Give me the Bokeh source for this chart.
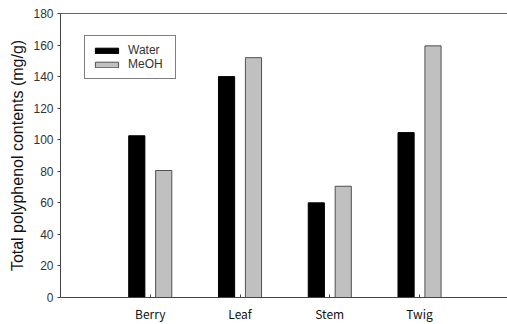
from bokeh.plotting import figure
from bokeh.models import Range1d, LinearAxis, Legend, LegendItem, FixedTicker, ColumnDataSource
from bokeh.embed import file_html
from bokeh.resources import INLINE

categories = ["Berry", "Leaf", "Stem", "Twig"]
water = [102.5, 140.0, 60.0, 104.5]
meoh = [80.5, 152.0, 70.5, 159.5]
y_ticks = [0, 20, 40, 60, 80, 100, 120, 140, 160, 180]

pos = [i + 1 for i in range(len(categories))]
src = ColumnDataSource(dict(
    xw=[x - 0.15 for x in pos], xm=[x + 0.15 for x in pos], water=water, meoh=meoh))

p = figure(width=507, height=324, output_backend="svg", toolbar_location=None,
           x_range=Range1d(0, 4.98), y_range=Range1d(0, 180),
           min_border_left=60, min_border_right=0, min_border_top=13, min_border_bottom=27)
p.outline_line_color = None
p.grid.visible = False
p.background_fill_color = "white"
p.border_fill_color = "white"

rw = p.vbar(x="xw", top="water", width=0.18, source=src, fill_color="black", line_color="black", line_width=1)
rm = p.vbar(x="xm", top="meoh", width=0.18, source=src, fill_color="#c0c0c0", line_color="#505050", line_width=1)

# x axis
xa = p.xaxis[0]
xa.ticker = FixedTicker(ticks=pos)
xa.major_label_overrides = {i + 1: c for i, c in enumerate(categories)}
xa.major_tick_in = 3
xa.major_tick_out = 0
xa.minor_tick_line_color = None
xa.axis_line_color = "#444444"
xa.major_tick_line_color = "#444444"
xa.major_label_text_font = "Noto Sans CJK KR"
xa.major_label_text_font_size = "12px"
xa.major_label_text_color = "#111111"
xa.major_label_standoff = 7

# y axis
ya = p.yaxis[0]
ya.ticker = FixedTicker(ticks=y_ticks)
ya.major_tick_in = 0
ya.major_tick_out = 3
ya.minor_tick_line_color = None
ya.axis_line_color = "#444444"
ya.major_tick_line_color = "#444444"
ya.major_label_text_font = "Liberation Sans"
ya.major_label_text_font_size = "12px"
ya.major_label_text_color = "#333333"
ya.major_label_standoff = 4
ya.axis_label = "Total polyphenol contents (mg/g)"
ya.axis_label_text_font = "Liberation Sans"
ya.axis_label_text_font_size = "16px"
ya.axis_label_text_font_style = "normal"
ya.axis_label_text_color = "#111111"
ya.axis_label_standoff = 4

# top border line
top = LinearAxis(ticker=FixedTicker(ticks=[]), major_label_text_font_size="0px",
                 major_tick_line_color=None, minor_tick_line_color=None,
                 axis_line_color="#666666")
p.add_layout(top, "above")

legend = Legend(items=[LegendItem(label="Water", renderers=[rw]),
                       LegendItem(label="MeOH", renderers=[rm])],
                location=(24, 218), orientation="vertical")
legend.border_line_color = "black"
legend.border_line_width = 1
legend.background_fill_alpha = 1
legend.glyph_width = 29
legend.glyph_height = 7
legend.label_text_font = "Liberation Sans"
legend.label_text_font_size = "12px"
legend.label_text_color = "#333333"
legend.label_height = 7
legend.label_width = 40
legend.spacing = -3
legend.padding = 7
legend.margin = 0
legend.label_standoff = 7
p.add_layout(legend, "center")

open("out.html", "w").write(file_html(p, INLINE))
